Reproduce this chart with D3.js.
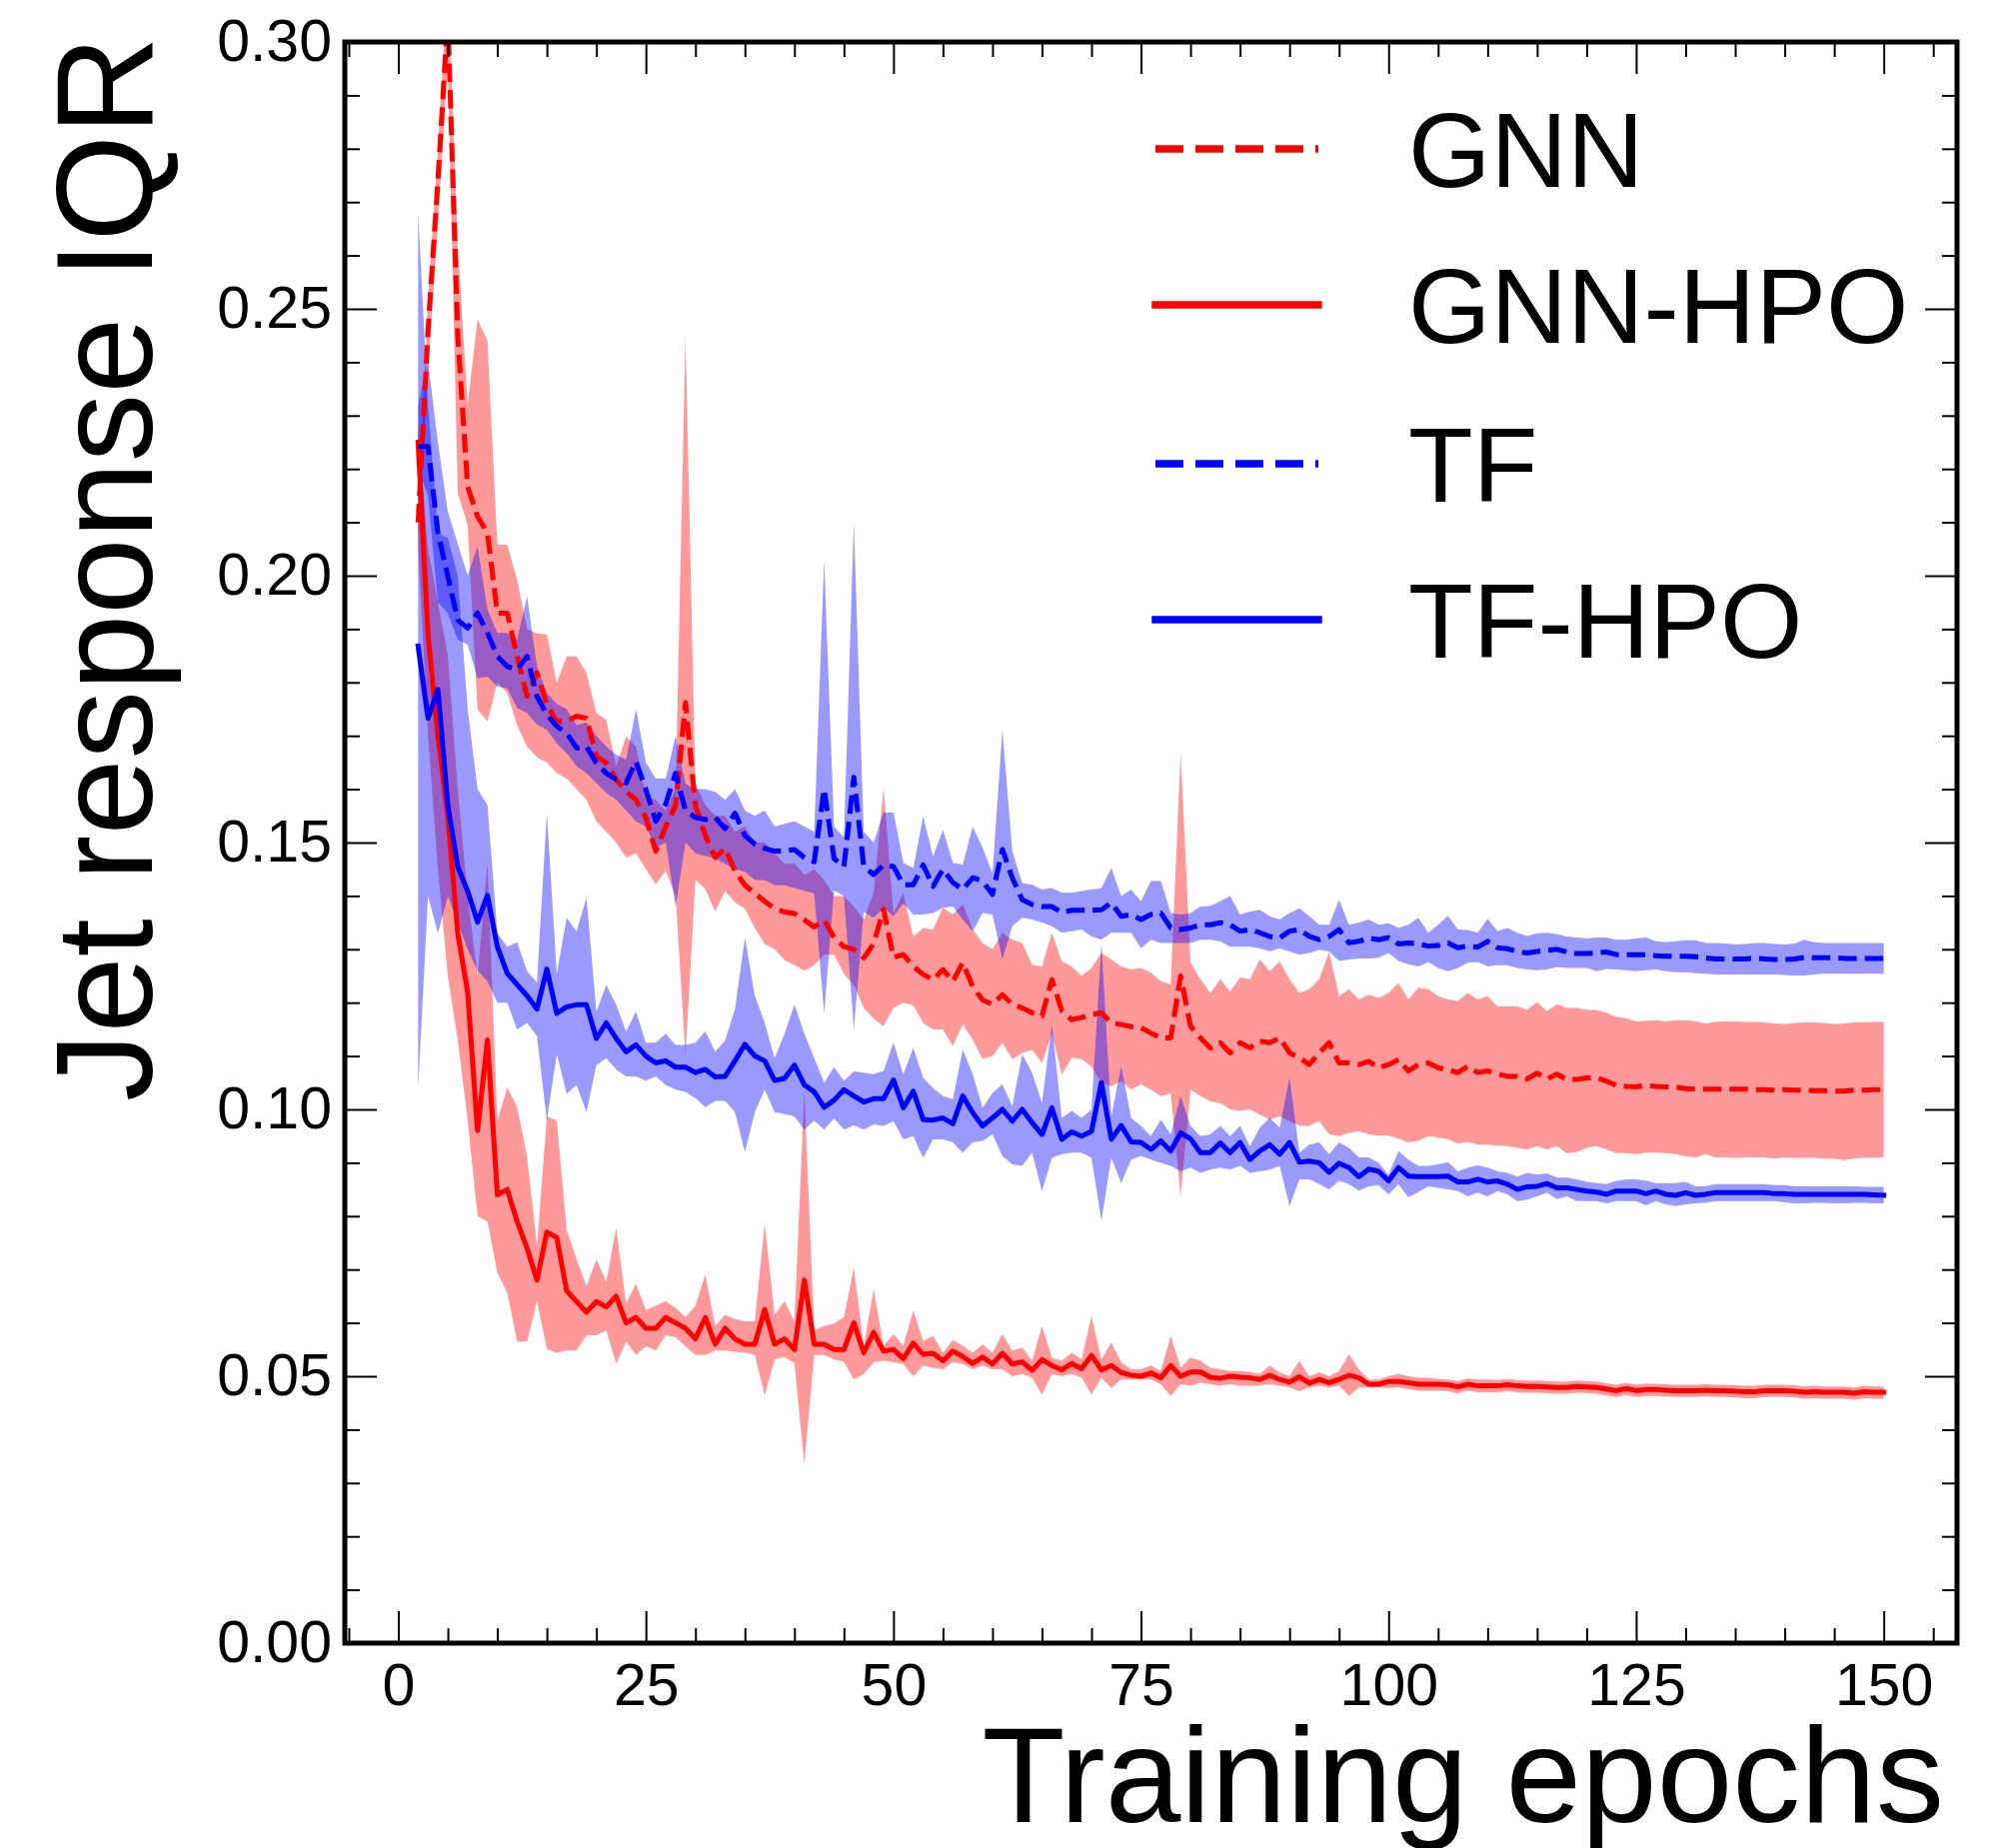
<!DOCTYPE html>
<html>
<head>
<meta charset="utf-8">
<script src="https://cdn.jsdelivr.net/npm/d3@7"></script>
<style>
  body { margin: 0; background: #fff; }
  text { font-family: "Liberation Sans", Arial, Helvetica, sans-serif; fill: #000; }
</style>
</head>
<body>
<svg id="chart"></svg>
<script>
// epochs 2..150, one value per epoch
const epochs = d3.range(2, 151);

const gnnMean = [
  0.210, 0.246, 0.274, 0.305, 0.245, 0.2167, 0.2111, 0.2080, 0.1930, 0.1930,
  0.1849, 0.1774, 0.1818, 0.1758, 0.1727, 0.1727, 0.1737, 0.1733, 0.1662, 0.1649,
  0.1618, 0.1596, 0.1580, 0.1547, 0.1484, 0.1530, 0.1570, 0.1762, 0.1570, 0.1513,
  0.1472, 0.1489, 0.1447, 0.1420, 0.1405, 0.1390, 0.1376, 0.1370, 0.1367, 0.1355,
  0.1342, 0.1355, 0.1322, 0.1305, 0.1300, 0.1284, 0.1310, 0.1375, 0.1285, 0.1290,
  0.1268, 0.1253, 0.1243, 0.1262, 0.1240, 0.1275, 0.1230, 0.1205, 0.1197, 0.1215,
  0.1197, 0.1190, 0.1181, 0.1175, 0.1243, 0.1185, 0.1168, 0.1172, 0.1178, 0.1181,
  0.1162, 0.1159, 0.1155, 0.1153, 0.1143, 0.1134, 0.1134, 0.1250, 0.1156, 0.1134,
  0.1115, 0.1125, 0.1106, 0.1125, 0.1115, 0.1128, 0.1125, 0.1134, 0.1106, 0.1097,
  0.1084, 0.1106, 0.1125, 0.1087, 0.1087, 0.1084, 0.1090, 0.1078, 0.1084, 0.1093,
  0.1072, 0.1084, 0.1087, 0.1078, 0.1074, 0.1069, 0.1081, 0.1069, 0.1072, 0.1066,
  0.1062, 0.1062, 0.1057, 0.1068, 0.1057, 0.1066, 0.1056, 0.1056, 0.1059, 0.1059,
  0.1053, 0.1045, 0.1043, 0.1042, 0.1045, 0.1043, 0.1042, 0.1042, 0.1039, 0.1038,
  0.1038, 0.1038, 0.1038, 0.1038, 0.1038, 0.1037, 0.1037, 0.1036, 0.1037, 0.1036,
  0.1036, 0.1035, 0.1035, 0.1034, 0.1034, 0.1036, 0.1036, 0.1037, 0.1037
];
const gnnHi = [
  0.212, 0.252, 0.280, 0.312, 0.262, 0.232, 0.248, 0.244, 0.2058, 0.2058,
  0.1992, 0.1900, 0.1892, 0.1890, 0.1799, 0.1849, 0.1849, 0.1818, 0.1743, 0.1730,
  0.1643, 0.1699, 0.1680, 0.1587, 0.1580, 0.1560, 0.1600, 0.2450, 0.1610, 0.1570,
  0.1550, 0.1550, 0.1520, 0.1530, 0.1500, 0.1500, 0.1480, 0.1460, 0.1460, 0.1440,
  0.1450, 0.1430, 0.1400, 0.1400, 0.1380, 0.1356, 0.1406, 0.1603, 0.1367, 0.1406,
  0.1324, 0.1340, 0.1337, 0.1378, 0.1365, 0.1384, 0.1337, 0.1312, 0.1300, 0.1331,
  0.1318, 0.1312, 0.1271, 0.1268, 0.1331, 0.1277, 0.1268, 0.1250, 0.1265, 0.1293,
  0.1281, 0.1268, 0.1262, 0.1265, 0.1256, 0.1240, 0.1234, 0.1668, 0.1275, 0.1244,
  0.1218, 0.1244, 0.1221, 0.1247, 0.1244, 0.1281, 0.1259, 0.1277, 0.1244, 0.1218,
  0.1225, 0.1244, 0.1296, 0.1212, 0.1225, 0.1206, 0.1215, 0.1209, 0.1218, 0.1237,
  0.1206, 0.1228, 0.1225, 0.1212, 0.1206, 0.1203, 0.1218, 0.1206, 0.1212, 0.1193,
  0.1193, 0.1193, 0.1187, 0.1201, 0.1184, 0.1197, 0.1190, 0.1190, 0.1187, 0.1186,
  0.1181, 0.1173, 0.1171, 0.1165, 0.1166, 0.1167, 0.1165, 0.1167, 0.1167, 0.1165,
  0.1161, 0.1164, 0.1165, 0.1165, 0.1164, 0.1164, 0.1163, 0.1161, 0.1160, 0.1162,
  0.1163, 0.1163, 0.1162, 0.1160, 0.1161, 0.1163, 0.1163, 0.1164, 0.1164
];
const gnnLo = [
  0.207, 0.238, 0.266, 0.296, 0.2155, 0.2095, 0.1749, 0.1727, 0.1800, 0.1780,
  0.1720, 0.1680, 0.1660, 0.1650, 0.1630, 0.1620, 0.1600, 0.1580, 0.1540, 0.1520,
  0.1500, 0.1472, 0.1480, 0.1450, 0.1422, 0.1447, 0.1400, 0.1100, 0.1430, 0.1413,
  0.1371, 0.1409, 0.1388, 0.1376, 0.1340, 0.1310, 0.1300, 0.1280, 0.1270, 0.1260,
  0.1270, 0.1290, 0.1290, 0.1254, 0.1233, 0.1190, 0.1170, 0.1156, 0.1190, 0.1200,
  0.1195, 0.1162, 0.1150, 0.1150, 0.1119, 0.1159, 0.1131, 0.1094, 0.1100, 0.1125,
  0.1094, 0.1106, 0.1112, 0.1087, 0.1143, 0.1065, 0.1097, 0.1094, 0.1080, 0.1050,
  0.1043, 0.1053, 0.1037, 0.1047, 0.1037, 0.1025, 0.1030, 0.0838, 0.1037, 0.1025,
  0.1015, 0.1012, 0.1000, 0.0997, 0.1000, 0.0990, 0.0981, 0.0987, 0.0978, 0.0969,
  0.0969, 0.0978, 0.0953, 0.0950, 0.0956, 0.0959, 0.0953, 0.0951, 0.0951, 0.0945,
  0.0938, 0.0941, 0.0950, 0.0947, 0.0944, 0.0936, 0.0939, 0.0934, 0.0934, 0.0932,
  0.0931, 0.0928, 0.0925, 0.0931, 0.0925, 0.0931, 0.0918, 0.0920, 0.0928, 0.0931,
  0.0925, 0.0918, 0.0918, 0.0916, 0.0919, 0.0919, 0.0918, 0.0916, 0.0912, 0.0910,
  0.0916, 0.0910, 0.0910, 0.0909, 0.0910, 0.0910, 0.0910, 0.0908, 0.0910, 0.0909,
  0.0909, 0.0909, 0.0908, 0.0908, 0.0905, 0.0908, 0.0909, 0.0909, 0.0910
];

const gnnHpoMean = [
  0.225, 0.189, 0.170, 0.155, 0.133, 0.122, 0.096, 0.113, 0.084, 0.085,
  0.079, 0.074, 0.068, 0.077, 0.076, 0.066, 0.064, 0.062, 0.064, 0.063,
  0.065, 0.060, 0.061, 0.059, 0.059, 0.061, 0.060, 0.059, 0.057, 0.061,
  0.056, 0.059, 0.057, 0.056, 0.056, 0.0625, 0.056, 0.057, 0.055, 0.068,
  0.056, 0.056, 0.055, 0.055, 0.060, 0.0544, 0.0582, 0.0547, 0.0550, 0.0533,
  0.0562, 0.0541, 0.0543, 0.0529, 0.0547, 0.0537, 0.0524, 0.0536, 0.0523, 0.0543,
  0.0523, 0.0527, 0.0511, 0.0531, 0.0520, 0.0512, 0.0524, 0.0514, 0.0539, 0.0512,
  0.0520, 0.0507, 0.0502, 0.0500, 0.0506, 0.0497, 0.0520, 0.0500, 0.0508, 0.0508,
  0.0498, 0.0496, 0.0500, 0.0498, 0.0497, 0.0494, 0.0502, 0.0494, 0.0489, 0.0499,
  0.0487, 0.0494, 0.0488, 0.0494, 0.0502, 0.0497, 0.0485, 0.0485, 0.0490, 0.0490,
  0.0488, 0.0485, 0.0485, 0.0485, 0.0484, 0.0480, 0.0485, 0.0482, 0.0482, 0.0482,
  0.0484, 0.0482, 0.0481, 0.0481, 0.0480, 0.0479, 0.0479, 0.0481, 0.0480, 0.0479,
  0.0476, 0.0473, 0.0477, 0.0473, 0.0475, 0.0475, 0.0474, 0.0473, 0.0473, 0.0473,
  0.0474, 0.0473, 0.0473, 0.0472, 0.0471, 0.0471, 0.0473, 0.0473, 0.0473, 0.0472,
  0.0470, 0.0471, 0.0470, 0.0470, 0.0470, 0.0468, 0.0471, 0.0470, 0.0470
];
const gnnHpoHi = [
  0.228, 0.205, 0.195, 0.185, 0.160, 0.140, 0.125, 0.146, 0.0979, 0.1041,
  0.1004, 0.0912, 0.0745, 0.0987, 0.0979, 0.0774, 0.0719, 0.0669, 0.0719, 0.0677,
  0.0778, 0.0637, 0.0673, 0.0624, 0.0632, 0.0641, 0.0628, 0.0611, 0.0632, 0.0690,
  0.0594, 0.0615, 0.0607, 0.0603, 0.0603, 0.0786, 0.0615, 0.0641, 0.0603, 0.1033,
  0.0586, 0.0594, 0.0599, 0.0611, 0.0703, 0.0557, 0.0663, 0.0557, 0.0579, 0.0557,
  0.0623, 0.0566, 0.0576, 0.0544, 0.0568, 0.0557, 0.0544, 0.0560, 0.0544, 0.0579,
  0.0548, 0.0554, 0.0529, 0.0594, 0.0535, 0.0529, 0.0544, 0.0532, 0.0613, 0.0532,
  0.0563, 0.0526, 0.0513, 0.0513, 0.0520, 0.0510, 0.0576, 0.0516, 0.0535, 0.0529,
  0.0516, 0.0513, 0.0510, 0.0510, 0.0508, 0.0504, 0.0520, 0.0507, 0.0500, 0.0529,
  0.0500, 0.0507, 0.0500, 0.0510, 0.0541, 0.0513, 0.0494, 0.0494, 0.0500, 0.0504,
  0.0500, 0.0497, 0.0497, 0.0495, 0.0494, 0.0491, 0.0496, 0.0494, 0.0494, 0.0493,
  0.0495, 0.0493, 0.0492, 0.0492, 0.0491, 0.0490, 0.0490, 0.0492, 0.0491, 0.0490,
  0.0487, 0.0484, 0.0488, 0.0484, 0.0486, 0.0486, 0.0485, 0.0484, 0.0484, 0.0484,
  0.0485, 0.0484, 0.0484, 0.0483, 0.0482, 0.0482, 0.0484, 0.0484, 0.0484, 0.0483,
  0.0481, 0.0482, 0.0481, 0.0481, 0.0481, 0.0479, 0.0482, 0.0481, 0.0481
];
const gnnHpoLo = [
  0.205, 0.170, 0.145, 0.125, 0.113, 0.098, 0.080, 0.079, 0.0694, 0.0657,
  0.0565, 0.0565, 0.0641, 0.0551, 0.0544, 0.0548, 0.0548, 0.0577, 0.0577, 0.0586,
  0.0523, 0.0565, 0.0540, 0.0556, 0.0548, 0.0577, 0.0573, 0.0556, 0.0540, 0.0540,
  0.0548, 0.0548, 0.0546, 0.0544, 0.0540, 0.0464, 0.0532, 0.0536, 0.0525, 0.0335,
  0.0540, 0.0540, 0.0532, 0.0527, 0.0494, 0.0504, 0.0526, 0.0529, 0.0526, 0.0523,
  0.0500, 0.0520, 0.0516, 0.0513, 0.0526, 0.0523, 0.0513, 0.0520, 0.0513, 0.0513,
  0.0500, 0.0504, 0.0497, 0.0466, 0.0504, 0.0500, 0.0504, 0.0497, 0.0466, 0.0497,
  0.0478, 0.0494, 0.0494, 0.0494, 0.0494, 0.0485, 0.0463, 0.0485, 0.0482, 0.0488,
  0.0485, 0.0482, 0.0485, 0.0482, 0.0482, 0.0482, 0.0485, 0.0482, 0.0479, 0.0472,
  0.0479, 0.0482, 0.0479, 0.0482, 0.0463, 0.0479, 0.0479, 0.0479, 0.0478, 0.0479,
  0.0476, 0.0473, 0.0473, 0.0473, 0.0472, 0.0468, 0.0473, 0.0470, 0.0470, 0.0470,
  0.0472, 0.0470, 0.0469, 0.0469, 0.0468, 0.0467, 0.0467, 0.0469, 0.0468, 0.0467,
  0.0464, 0.0461, 0.0465, 0.0461, 0.0463, 0.0463, 0.0462, 0.0461, 0.0461, 0.0461,
  0.0462, 0.0461, 0.0461, 0.0460, 0.0459, 0.0459, 0.0461, 0.0461, 0.0461, 0.0460,
  0.0458, 0.0459, 0.0458, 0.0458, 0.0458, 0.0456, 0.0459, 0.0458, 0.0458
];

const tfMean = [
  0.2242, 0.2242, 0.2080, 0.1999, 0.1917, 0.1902, 0.1930, 0.1893, 0.1849, 0.1830,
  0.1824, 0.1849, 0.1774, 0.1740, 0.1718, 0.1705, 0.1677, 0.1680, 0.1649, 0.1630,
  0.1618, 0.1612, 0.1652, 0.1599, 0.1540, 0.1572, 0.1630, 0.1560, 0.1547, 0.1543,
  0.1547, 0.1526, 0.1555, 0.1513, 0.1497, 0.1489, 0.1484, 0.1484, 0.1487, 0.1472,
  0.1464, 0.1600, 0.1470, 0.1455, 0.1622, 0.1455, 0.1440, 0.1458, 0.1455, 0.1421,
  0.1421, 0.1458, 0.1418, 0.1450, 0.1425, 0.1412, 0.1434, 0.1428, 0.1403, 0.1487,
  0.1434, 0.1393, 0.1384, 0.1380, 0.1380, 0.1369, 0.1373, 0.1373, 0.1373, 0.1374,
  0.1387, 0.1362, 0.1365, 0.1356, 0.1365, 0.1368, 0.1340, 0.1337, 0.1340, 0.1346,
  0.1346, 0.1350, 0.1346, 0.1334, 0.1337, 0.1331, 0.1324, 0.1321, 0.1334, 0.1337,
  0.1324, 0.1318, 0.1324, 0.1337, 0.1312, 0.1315, 0.1321, 0.1318, 0.1322, 0.1310,
  0.1312, 0.1310, 0.1306, 0.1307, 0.1312, 0.1303, 0.1306, 0.1304, 0.1315, 0.1303,
  0.1301, 0.1296, 0.1293, 0.1296, 0.1298, 0.1300, 0.1295, 0.1292, 0.1292, 0.1293,
  0.1295, 0.1290, 0.1290, 0.1290, 0.1290, 0.1288, 0.1287, 0.1287, 0.1287, 0.1286,
  0.1284, 0.1282, 0.1282, 0.1282, 0.1282, 0.1283, 0.1282, 0.1281, 0.1281, 0.1282,
  0.1285, 0.1284, 0.1284, 0.1284, 0.1283, 0.1283, 0.1283, 0.1283, 0.1283
];
const tfHi = [
  0.232, 0.240, 0.225, 0.212, 0.206, 0.200, 0.2055, 0.1937, 0.1893, 0.1893,
  0.1880, 0.1961, 0.1830, 0.1780, 0.1760, 0.1750, 0.1720, 0.1725, 0.1700, 0.1680,
  0.1665, 0.1655, 0.1750, 0.1650, 0.1620, 0.1620, 0.1700, 0.1610, 0.1600, 0.1600,
  0.1595, 0.1580, 0.1600, 0.1560, 0.1550, 0.1560, 0.1530, 0.1535, 0.1540, 0.1530,
  0.1520, 0.2030, 0.1530, 0.1510, 0.2100, 0.1520, 0.1500, 0.1556, 0.1556, 0.1462,
  0.1452, 0.1549, 0.1474, 0.1524, 0.1462, 0.1459, 0.1530, 0.1490, 0.1443, 0.1711,
  0.1484, 0.1424, 0.1421, 0.1412, 0.1415, 0.1406, 0.1406, 0.1409, 0.1412, 0.1415,
  0.1452, 0.1400, 0.1412, 0.1390, 0.1428, 0.1428, 0.1368, 0.1365, 0.1368, 0.1380,
  0.1381, 0.1390, 0.1400, 0.1365, 0.1371, 0.1374, 0.1362, 0.1356, 0.1368, 0.1377,
  0.1362, 0.1346, 0.1346, 0.1393, 0.1346, 0.1350, 0.1356, 0.1346, 0.1349, 0.1340,
  0.1346, 0.1359, 0.1331, 0.1346, 0.1363, 0.1337, 0.1336, 0.1331, 0.1357, 0.1334,
  0.1340, 0.1331, 0.1325, 0.1330, 0.1331, 0.1328, 0.1324, 0.1322, 0.1320, 0.1322,
  0.1322, 0.1318, 0.1318, 0.1320, 0.1322, 0.1315, 0.1313, 0.1315, 0.1317, 0.1317,
  0.1312, 0.1312, 0.1311, 0.1309, 0.1310, 0.1312, 0.1312, 0.1310, 0.1309, 0.1311,
  0.1318, 0.1313, 0.1312, 0.1312, 0.1312, 0.1312, 0.1312, 0.1312, 0.1312
];
const tfLo = [
  0.2200, 0.2150, 0.1950, 0.1930, 0.1880, 0.1871, 0.1808, 0.1811, 0.1792, 0.1789,
  0.1752, 0.1743, 0.1721, 0.1711, 0.1686, 0.1668, 0.1643, 0.1630, 0.1612, 0.1593,
  0.1580, 0.1560, 0.1540, 0.1530, 0.1490, 0.1500, 0.1380, 0.1500, 0.1480, 0.1475,
  0.1470, 0.1460, 0.1450, 0.1445, 0.1430, 0.1430, 0.1420, 0.1420, 0.1415, 0.1410,
  0.1405, 0.1180, 0.1410, 0.1400, 0.1150, 0.1370, 0.1359, 0.1378, 0.1362, 0.1386,
  0.1365, 0.1365, 0.1368, 0.1378, 0.1380, 0.1356, 0.1334, 0.1368, 0.1365, 0.1281,
  0.1343, 0.1359, 0.1356, 0.1350, 0.1343, 0.1331, 0.1334, 0.1337, 0.1324, 0.1318,
  0.1331, 0.1331, 0.1331, 0.1302, 0.1318, 0.1312, 0.1312, 0.1312, 0.1312, 0.1318,
  0.1318, 0.1315, 0.1305, 0.1305, 0.1305, 0.1302, 0.1296, 0.1302, 0.1296, 0.1290,
  0.1293, 0.1299, 0.1296, 0.1278, 0.1281, 0.1283, 0.1283, 0.1284, 0.1293, 0.1278,
  0.1272, 0.1268, 0.1276, 0.1265, 0.1259, 0.1265, 0.1275, 0.1276, 0.1268, 0.1270,
  0.1270, 0.1265, 0.1262, 0.1261, 0.1262, 0.1267, 0.1265, 0.1265, 0.1265, 0.1259,
  0.1263, 0.1262, 0.1261, 0.1259, 0.1261, 0.1262, 0.1259, 0.1257, 0.1257, 0.1255,
  0.1254, 0.1253, 0.1253, 0.1253, 0.1253, 0.1253, 0.1253, 0.1253, 0.1252, 0.1251,
  0.1251, 0.1253, 0.1254, 0.1254, 0.1254, 0.1254, 0.1254, 0.1254, 0.1254
];

const tfHpoMean = [
  0.1868, 0.1733, 0.1787, 0.1570, 0.1455, 0.1409, 0.1351, 0.1401, 0.1305, 0.1255,
  0.1234, 0.1213, 0.1188, 0.1263, 0.1180, 0.1192, 0.1196, 0.1196, 0.1133, 0.1162,
  0.1133, 0.1108, 0.1121, 0.1100, 0.1087, 0.1091, 0.1079, 0.1079, 0.1069, 0.1075,
  0.1061, 0.1062, 0.1091, 0.1122, 0.1100, 0.1091, 0.1054, 0.1058, 0.1083, 0.1046,
  0.1033, 0.1004, 0.1017, 0.1037, 0.1025, 0.1014, 0.1020, 0.1020, 0.1055, 0.1003,
  0.1034, 0.0981, 0.0980, 0.0984, 0.0973, 0.1025, 0.0994, 0.0969, 0.0984, 0.1000,
  0.0978, 0.1000, 0.0975, 0.0953, 0.1003, 0.0944, 0.0958, 0.0950, 0.0959, 0.1050,
  0.0944, 0.0970, 0.0939, 0.0938, 0.0925, 0.0941, 0.0922, 0.0956, 0.0945, 0.0919,
  0.0919, 0.0937, 0.0919, 0.0938, 0.0906, 0.0922, 0.0934, 0.0916, 0.0938, 0.0901,
  0.0903, 0.0900, 0.0882, 0.0899, 0.0891, 0.0874, 0.0888, 0.0884, 0.0866, 0.0891,
  0.0875, 0.0874, 0.0874, 0.0874, 0.0875, 0.0864, 0.0864, 0.0869, 0.0864, 0.0866,
  0.0860, 0.0850, 0.0855, 0.0856, 0.0861, 0.0853, 0.0853, 0.0850, 0.0847, 0.0845,
  0.0841, 0.0847, 0.0847, 0.0847, 0.0842, 0.0847, 0.0841, 0.0839, 0.0844, 0.0839,
  0.0841, 0.0844, 0.0844, 0.0844, 0.0844, 0.0844, 0.0844, 0.0842, 0.0842, 0.0841,
  0.0841, 0.0841, 0.0841, 0.0841, 0.0841, 0.0841, 0.0841, 0.0840, 0.0839
];
const tfHpoHi = [
  0.268, 0.232, 0.208, 0.207, 0.200, 0.175, 0.160, 0.157, 0.1330, 0.1305,
  0.1313, 0.1259, 0.1238, 0.1555, 0.1254, 0.1359, 0.1334, 0.1397, 0.1183, 0.1233,
  0.1196, 0.1146, 0.1183, 0.1125, 0.1125, 0.1142, 0.1121, 0.1121, 0.1125, 0.1146,
  0.1108, 0.1129, 0.1188, 0.1322, 0.1213, 0.1162, 0.1096, 0.1142, 0.1196, 0.1142,
  0.1096, 0.1050, 0.1079, 0.1054, 0.1071, 0.1069, 0.1066, 0.1072, 0.1125, 0.1066,
  0.1115, 0.1059, 0.1040, 0.1025, 0.1019, 0.1112, 0.1066, 0.1003, 0.1031, 0.1047,
  0.1006, 0.1103, 0.1069, 0.1012, 0.1159, 0.0984, 0.0997, 0.0984, 0.1000, 0.1313,
  0.0987, 0.1081, 0.0984, 0.0969, 0.0950, 0.0981, 0.0953, 0.1025, 0.0969, 0.0950,
  0.0953, 0.0969, 0.0950, 0.0969, 0.0931, 0.0966, 0.0984, 0.0966, 0.1059, 0.0919,
  0.0934, 0.0938, 0.0916, 0.0938, 0.0928, 0.0910, 0.0910, 0.0900, 0.0878, 0.0922,
  0.0906, 0.0894, 0.0894, 0.0897, 0.0901, 0.0884, 0.0891, 0.0895, 0.0891, 0.0884,
  0.0881, 0.0874, 0.0881, 0.0878, 0.0880, 0.0872, 0.0872, 0.0869, 0.0864, 0.0862,
  0.0860, 0.0866, 0.0869, 0.0869, 0.0866, 0.0862, 0.0862, 0.0862, 0.0864, 0.0856,
  0.0856, 0.0860, 0.0860, 0.0860, 0.0860, 0.0860, 0.0860, 0.0858, 0.0858, 0.0856,
  0.0856, 0.0856, 0.0856, 0.0856, 0.0856, 0.0856, 0.0855, 0.0855, 0.0855
];
const tfHpoLo = [
  0.104, 0.140, 0.133, 0.140, 0.135, 0.130, 0.126, 0.124, 0.1200, 0.1200,
  0.1150, 0.1162, 0.1137, 0.0979, 0.1104, 0.1029, 0.1046, 0.0995, 0.1083, 0.1096,
  0.1075, 0.1062, 0.1062, 0.1054, 0.1062, 0.1046, 0.1037, 0.1033, 0.1021, 0.1004,
  0.1016, 0.1016, 0.0995, 0.0920, 0.0995, 0.1037, 0.0995, 0.0991, 0.0987, 0.0962,
  0.0979, 0.0962, 0.0983, 0.0962, 0.0970, 0.0962, 0.0972, 0.0969, 0.0978, 0.0944,
  0.0950, 0.0909, 0.0944, 0.0944, 0.0938, 0.0919, 0.0938, 0.0941, 0.0953, 0.0913,
  0.0897, 0.0894, 0.0919, 0.0847, 0.0909, 0.0916, 0.0919, 0.0919, 0.0909, 0.0791,
  0.0909, 0.0862, 0.0906, 0.0913, 0.0906, 0.0900, 0.0894, 0.0884, 0.0891, 0.0881,
  0.0887, 0.0891, 0.0887, 0.0894, 0.0881, 0.0884, 0.0887, 0.0894, 0.0819, 0.0869,
  0.0869, 0.0860, 0.0850, 0.0866, 0.0860, 0.0848, 0.0856, 0.0858, 0.0841, 0.0860,
  0.0835, 0.0845, 0.0856, 0.0853, 0.0850, 0.0847, 0.0837, 0.0844, 0.0837, 0.0847,
  0.0841, 0.0828, 0.0831, 0.0837, 0.0844, 0.0832, 0.0837, 0.0828, 0.0828, 0.0828,
  0.0824, 0.0828, 0.0828, 0.0828, 0.0820, 0.0828, 0.0822, 0.0819, 0.0822, 0.0824,
  0.0825, 0.0828, 0.0828, 0.0828, 0.0828, 0.0828, 0.0828, 0.0828, 0.0826, 0.0824,
  0.0824, 0.0825, 0.0825, 0.0824, 0.0824, 0.0825, 0.0825, 0.0824, 0.0824
];

const labels = ['GNN', 'GNN-HPO', 'TF', 'TF-HPO'];
const xMajorTicks = [0, 25, 50, 75, 100, 125, 150];
const xMinorTicks = [-5, 5, 10, 15, 20, 30, 35, 40, 45, 55, 60, 65, 70, 80, 85, 90, 95, 105, 110, 115, 120, 130, 135, 140, 145, 155];
const yMajorTicks = [0, 0.05, 0.10, 0.15, 0.20, 0.25, 0.30];
const yMinorTicks = [0.01, 0.02, 0.03, 0.04, 0.06, 0.07, 0.08, 0.09, 0.11, 0.12, 0.13, 0.14,
                     0.16, 0.17, 0.18, 0.19, 0.21, 0.22, 0.23, 0.24, 0.26, 0.27, 0.28, 0.29];

const series = [
  {name: labels[0], mean: gnnMean,    lo: gnnLo,    hi: gnnHi,    color: '#ff0000', dashed: true},
  {name: labels[1], mean: gnnHpoMean, lo: gnnHpoLo, hi: gnnHpoHi, color: '#ff0000', dashed: false},
  {name: labels[2], mean: tfMean,     lo: tfLo,     hi: tfHi,     color: '#0000ff', dashed: true},
  {name: labels[3], mean: tfHpoMean,  lo: tfHpoLo,  hi: tfHpoHi,  color: '#0000ff', dashed: false}
];

const W = 1994, H = 1849;
const margin = {top: 42, right: 36, bottom: 205, left: 345};
const innerW = W - margin.left - margin.right;
const innerH = H - margin.top - margin.bottom;

const svg = d3.select('#chart').attr('width', W).attr('height', H);
svg.append('rect').attr('width', W).attr('height', H).attr('fill', '#fff');

const chart = svg.append('g').attr('transform', `translate(${margin.left},${margin.top})`);

const x = d3.scaleLinear().domain([-5.4, 157.4]).range([0, innerW]);
const y = d3.scaleLinear().domain([0, 0.30]).range([innerH, 0]);

chart.append('clipPath').attr('id', 'plotclip')
  .append('rect').attr('width', innerW).attr('height', innerH);

const plot = chart.append('g').attr('clip-path', 'url(#plotclip)');

const rows = s => epochs.map((e, i) => ({e: e, m: s.mean[i], lo: s.lo[i], hi: s.hi[i]}));

const area = d3.area()
  .x(d => x(d.e))
  .y0(d => y(d.lo))
  .y1(d => y(d.hi));

const line = d3.line()
  .x(d => x(d.e))
  .y(d => y(d.m));

// bands first, then the lines on top
series.forEach(s => {
  plot.append('path')
    .datum(rows(s))
    .attr('d', area)
    .attr('fill', s.color)
    .attr('fill-opacity', 0.4)
    .attr('stroke', 'none');
});
series.forEach(s => {
  plot.append('path')
    .datum(rows(s))
    .attr('d', line)
    .attr('fill', 'none')
    .attr('stroke', s.color)
    .attr('stroke-width', 5)
    .attr('stroke-linejoin', 'round')
    .attr('stroke-linecap', s.dashed ? 'butt' : 'square')
    .attr('stroke-dasharray', s.dashed ? '18.5,8' : null);
});

// axes, ticks pointing inwards on all four sides
function styleAxis(g) {
  g.select('.domain').remove();
  g.selectAll('.tick line').attr('stroke', '#000').attr('stroke-width', 2);
  g.selectAll('.tick text').attr('font-size', 59).attr('fill', '#000')
    .attr('font-family', '"Liberation Sans", Arial, sans-serif');
}

chart.append('g').attr('transform', `translate(0,${innerH})`)
  .call(d3.axisBottom(x).tickValues(xMajorTicks).tickSize(-32).tickPadding(20).tickFormat(d3.format('d')))
  .call(styleAxis);
chart.append('g').attr('transform', `translate(0,${innerH})`)
  .call(d3.axisBottom(x).tickValues(xMinorTicks).tickSize(-15).tickFormat(''))
  .call(styleAxis);
chart.append('g')
  .call(d3.axisTop(x).tickValues(xMajorTicks).tickSize(-32).tickFormat(''))
  .call(styleAxis);
chart.append('g')
  .call(d3.axisTop(x).tickValues(xMinorTicks).tickSize(-15).tickFormat(''))
  .call(styleAxis);

chart.append('g')
  .call(d3.axisLeft(y).tickValues(yMajorTicks).tickSize(-32).tickPadding(13).tickFormat(d3.format('.2f')))
  .call(styleAxis);
chart.append('g')
  .call(d3.axisLeft(y).tickValues(yMinorTicks).tickSize(-15).tickFormat(''))
  .call(styleAxis);
chart.append('g').attr('transform', `translate(${innerW},0)`)
  .call(d3.axisRight(y).tickValues(yMajorTicks).tickSize(-32).tickFormat(''))
  .call(styleAxis);
chart.append('g').attr('transform', `translate(${innerW},0)`)
  .call(d3.axisRight(y).tickValues(yMinorTicks).tickSize(-15).tickFormat(''))
  .call(styleAxis);

// frame
chart.append('rect')
  .attr('width', innerW).attr('height', innerH)
  .attr('fill', 'none').attr('stroke', '#000').attr('stroke-width', 5);

// axis titles
chart.append('text')
  .attr('x', 1945 - margin.left).attr('y', 1823 - margin.top)
  .attr('text-anchor', 'end')
  .attr('font-size', 136)
  .text('Training epochs');

chart.append('text')
  .attr('transform', `translate(${152 - margin.left},${36 - margin.top}) rotate(-90)`)
  .attr('text-anchor', 'end')
  .attr('font-size', 137)
  .text('Jet response IQR');

// legend
const legendY = [149, 305, 464, 620];
const legend = chart.append('g');
series.forEach((s, i) => {
  const ly = legendY[i] - margin.top;
  legend.append('line')
    .attr('x1', 1156 - margin.left).attr('x2', 1319 - margin.left)
    .attr('y1', ly).attr('y2', ly)
    .attr('stroke', s.color)
    .attr('stroke-width', 7.4)
    .attr('stroke-linecap', s.dashed ? 'butt' : 'square')
    .attr('stroke-dasharray', s.dashed ? '28,12' : null);
  legend.append('text')
    .attr('x', 1409 - margin.left).attr('y', ly)
    .attr('dy', '0.36em')
    .attr('font-size', 106)
    .text(s.name);
});
</script>
</body>
</html>
